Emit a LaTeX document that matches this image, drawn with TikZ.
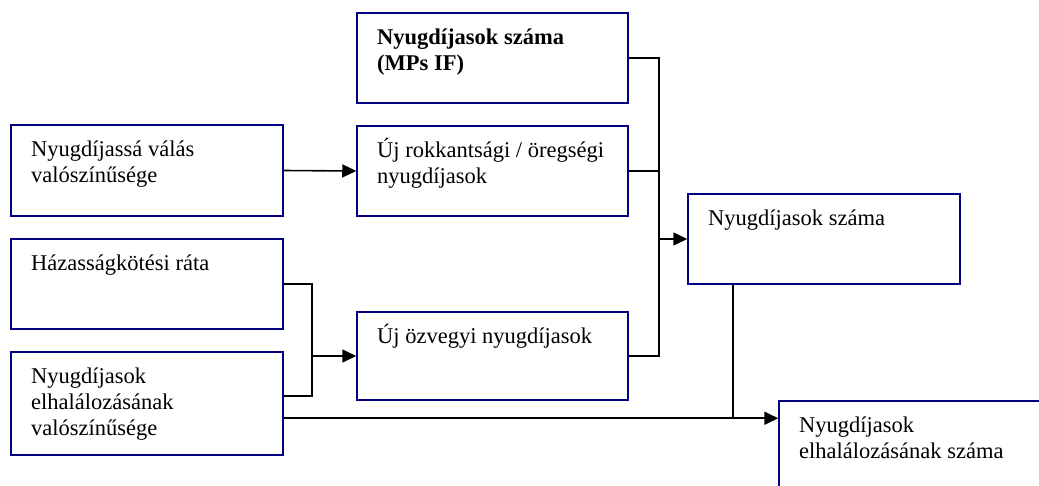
\documentclass[tikz,border=0pt]{standalone}
\usepackage{fontspec}
\setmainfont{Liberation Serif}
\usetikzlibrary{arrows.meta,calc}
\definecolor{boxnavy}{RGB}{0,0,128}
\tikzset{
  x=1pt, y=-1pt,
  boxframe/.style={draw=boxnavy, line width=1.5pt, rectangle, inner sep=0pt},
  boxtext/.style={anchor=base west, inner sep=0pt, font=\fontsize{22.5}{26}\selectfont},
  link/.style={line width=1.6pt, draw=black},
  flow/.style={link, -{Triangle[length=14pt,width=13pt]}},
}
% #1 name, #2..#5 corners (left, top, right, bottom), #6 text
\newcommand\procbox[6]{%
  \node[boxframe, minimum width={(#4-#2)*1pt}, minimum height={(#5-#3)*1pt}]
    (#1) at ({(#2+#4)/2},{(#3+#5)/2}) {};
  \node[boxtext] (#1t) at ({#2+20},{#3+31}) {\parbox[t]{300pt}{#6}};
}
\begin{document}
\begin{tikzpicture}
  \clip (0,0) rectangle (1039,485);
  \fill[white] (0,0) rectangle (1039,485);

  \procbox{b1}{357}{13}{628}{103}{\textbf{Nyugdíjasok száma}\\\textbf{(MPs IF)}}
  \procbox{b2}{11}{125}{283}{216}{Nyugdíjassá válás\\valószínűsége}
  \procbox{b3}{357}{126}{628}{216}{Új rokkantsági / öregségi\\nyugdíjasok}
  \procbox{b4}{688}{194}{960}{284}{Nyugdíjasok száma}
  \procbox{b5}{11}{239}{283}{329}{Házasságkötési ráta}
  \procbox{b6}{357}{312}{628}{400}{Új özvegyi nyugdíjasok}
  \procbox{b7}{11}{352}{283}{455}{Nyugdíjasok\\elhalálozásának\\valószínűsége}
  \procbox{b8}{779}{401}{1070}{500}{Nyugdíjasok\\elhalálozásának száma}

  % right-hand bus gathering the three pensioner groups
  \coordinate (busR) at (659,239);
  \draw[link] (b1.east) -| (busR) |- (b6.east);
  \draw[link] (b3.east) -- (b3.east -| busR);
  \draw[flow] (busR) -- (b4.west);

  % probability of becoming a pensioner
  \draw[flow] (b2.east) -- (b3.west);

  % left-hand bus feeding the widow pensions
  \coordinate (busL) at (312,356);
  \coordinate (b7a) at ($(b7.north east)+(0,45)$);
  \coordinate (b7b) at ($(b7.north east)+(0,67)$);
  \draw[link] (b5.east) -| (busL);
  \draw[link] (b7a) -| (busL);
  \draw[flow] (busL) -- (b6.west);

  % deaths line
  \coordinate (b4foot) at ($(b4.south west)+(46,0)$);
  \draw[flow] (b7b) -- (b7b -| b8.west);
  \draw[link] (b4foot) -- (b4foot |- b7b);
\end{tikzpicture}
\end{document}
